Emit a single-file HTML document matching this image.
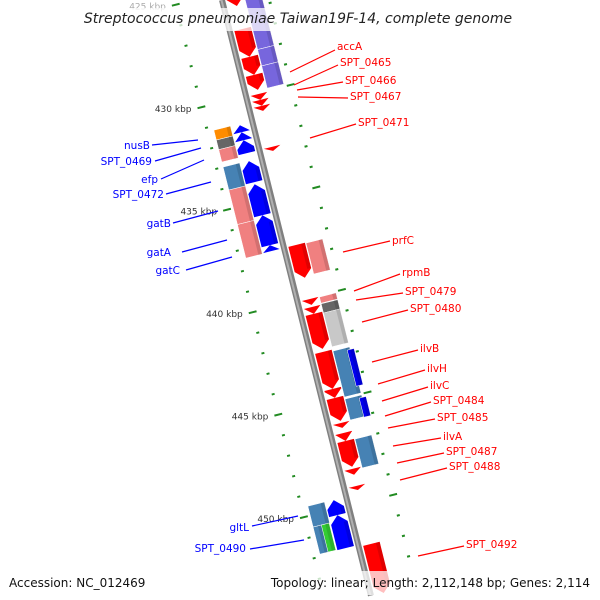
<!DOCTYPE html>
<html><head><meta charset="utf-8">
<style>
html,body{margin:0;padding:0;background:#fff;width:600px;height:600px;overflow:hidden;}
svg{display:block;font-family:"DejaVu Sans","Liberation Sans",sans-serif;overflow:hidden;}
</style></head>
<body>
<svg id="chart" width="600" height="600" viewBox="0 0 600 600" xmlns="http://www.w3.org/2000/svg">
<defs><clipPath id="frame"><rect x="0" y="0" width="600" height="600"/></clipPath></defs>
<g clip-path="url(#frame)">
<g id="plot"></g>
<g id="labels"></g>
</g>
<rect x="82" y="8" width="436" height="23" fill="#fff" opacity="0.75"/>
<text x="298" y="23" text-anchor="middle" font-size="14" font-style="italic" fill="#222">Streptococcus pneumoniae Taiwan19F-14, complete genome</text>
<rect x="0" y="571" width="600" height="24" fill="#fff" opacity="0.75"/>
<text x="9" y="587" font-size="12" fill="#111">Accession: NC_012469</text>
<text x="590" y="587" text-anchor="end" font-size="12" fill="#111">Topology: linear; Length: 2,112,148 bp; Genes: 2,114</text>
</svg>
<script>
// genome data (kbp)
const fwdStarts = [424.8,426.88,428.24,429.12,430.05,430.34,430.63,432.63,437.41,440.05,440.44,440.78,442.63,444.44,444.88,446.1,446.59,446.98,448.34,449.17,452.0];
const fwdEnds   = [425.76,428.24,429.12,429.85,430.34,430.63,430.88,432.83,439.02,440.34,440.78,442.49,444.44,444.88,446.0,446.34,446.98,448.24,448.63,449.37,454.4];
const revStarts = [431.27,431.61,432.0,433.02,434.15,435.66,437.12,449.56,450.29];
const revEnds   = [431.61,432.0,432.63,434.05,435.66,437.12,437.41,450.29,451.9];
const outerRStarts = [424.8,428.0,428.8,437.44,440.07,440.4,440.85,442.71,445.05,447.0];
const outerREnds   = [428.0,428.8,429.88,438.95,440.37,440.85,442.5,444.95,446.07,448.41];
const outerRColors = ["#7766dd","#7766dd","#7766dd","#f08080","#f08080","#666666","#c8c8c8","#4682b4","#4682b4","#4682b4"];
const thirdRStarts = [442.83,445.17];
const thirdREnds   = [444.59,446.1];
const outerLStarts = [431.2,431.68,432.15,433.0,434.12,435.8,449.54];
const outerLEnds   = [431.68,432.15,432.75,434.12,435.8,437.44,450.56];
const outerLColors = ["#ff8c00","#666666","#f08080","#4682b4","#f08080","#f08080","#4682b4"];
const splitLStarts = [450.56];
const splitLEnds   = [451.88];
const tickStart = 425, tickEnd = 453;
const tickLabels = ["425 kbp","430 kbp","435 kbp","440 kbp","445 kbp","450 kbp"];
const tickLabelValues = [425,430,435,440,445,450];

const NS="http://www.w3.org/2000/svg";
const ANG=14.04*Math.PI/180, C=Math.cos(ANG), S=Math.sin(ANG);
function vOf(k){return 99+(k-430)*21.13;}
function toScreen(u,v){return [222+u*C+v*S, -u*S+v*C];}
const plot=document.getElementById('plot');
const g=document.createElementNS(NS,'g');
g.setAttribute('transform','translate(222,0) rotate(-14.04)');
plot.appendChild(g);
function mk(tag,attrs,parent){const e=document.createElementNS(NS,tag);for(const k in attrs)e.setAttribute(k,attrs[k]);(parent||g).appendChild(e);return e;}

// backbone
const bb=mk('line',{x1:0,y1:0,x2:0,y2:614,stroke:'#808080','stroke-width':6});


mk('line',{x1:-0.5,y1:0,x2:-0.5,y2:614,stroke:'#b0b0b0','stroke-width':2});

// ticks
for(let k=tickStart;k<=tickEnd;k++){
  const v=vOf(k), major=(k%5===0);
  [-46,46].forEach(u=>{
    const len=major?8:3;
    const t=mk('rect',{x:u-len/2,y:v-1,width:len,height:2,fill:'#228b22'});
    
    
  });
}
tickLabelValues.forEach((k,i)=>{
  const p=toScreen(-50,vOf(k));
  const t=mk('text',{x:p[0]-6,y:p[1]+4,'text-anchor':'end','font-size':9,fill:k===425?'#aaa':'#333'},plot);
  t.textContent=tickLabels[i];
  
  
});

function arrow(k1,k2,u,w,color,forward,name){
  const v1=vOf(k1), v2=vOf(k2), len=v2-v1, h=Math.min(8,len);
  let pts;
  if(forward) pts=[[u-w/2,v1],[u+w/2,v1],[u+w/2,v2-h],[u,v2],[u-w/2,v2-h]];
  else pts=[[u-w/2,v2],[u+w/2,v2],[u+w/2,v1+h],[u,v1],[u-w/2,v1+h]];
  const p=mk('polygon',{points:pts.map(q=>q.join(',')).join(' '),fill:color});
  
  
  mk('rect',{x:u+w/2-4,y:forward?v1:v1+h,width:4,height:Math.max(0,len-h),fill:'#000',opacity:0.12});
}
function box(k1,k2,u,w,color,name){
  const r=mk('rect',{x:u-w/2,y:vOf(k1),width:w,height:vOf(k2)-vOf(k1),fill:color,stroke:'#fff','stroke-width':0.5});
  
  
  mk('rect',{x:u+w/2-4,y:vOf(k1),width:4,height:vOf(k2)-vOf(k1),fill:'#000',opacity:0.12});
}
fwdStarts.forEach((s,i)=>arrow(s,fwdEnds[i],13,17,'#ff0000',true,'forward-gene'));
revStarts.forEach((s,i)=>arrow(s,revEnds[i],-13,17,'#0000ff',false,'reverse-gene'));
outerRStarts.forEach((s,i)=>box(s,outerREnds[i],31,17,outerRColors[i],'forward-feature'));
thirdRStarts.forEach((s,i)=>box(s,thirdREnds[i],40,7,'#0000ee','forward-feature-blue'));
outerLStarts.forEach((s,i)=>box(s,outerLEnds[i],-31,17,outerLColors[i],'reverse-feature'));
splitLStarts.forEach((s,i)=>{box(s,splitLEnds[i],-35,9,'#4682b4','reverse-feature');box(s,splitLEnds[i],-27,8,'#33cc33','reverse-feature-green');});

// labels (screen coords)
const L=document.getElementById('labels');
const rightLabels=[["accA",337,50,290,72,335,50],["SPT_0465",340,66,294,85,338,65],["SPT_0466",345,84,297,90,343,82],["SPT_0467",350,100,298,97,348,98],["SPT_0471",358,126,310,138,356,124],["prfC",392,244,343,252,390,241],["rpmB",402,276,354,291,400,274],["SPT_0479",405,295,356,300,403,293],["SPT_0480",410,312,362,322,408,310],["ilvB",420,352,372,362,418,350],["ilvH",427,372,378,384,425,370],["ilvC",430,389,382,401,428,387],["SPT_0484",433,404,385,416,431,402],["SPT_0485",437,421,388,428,435,419],["ilvA",443,440,393,446,441,438],["SPT_0487",446,455,397,463,444,453],["SPT_0488",449,470,400,480,447,468],["SPT_0492",466,548,418,556,464,546]];
const leftLabels=[["nusB",150,149,152,145,198,140],["SPT_0469",152,165,155,161,201,148],["efp",158,183,161,179,204,160],["SPT_0472",164,198,166,194,211,182],["gatB",171,227,173,223,218,211],["gatA",171,256,182,252,227,240],["gatC",180,274,186,270,232,257],["gltL",249,531,252,526,298,516],["SPT_0490",246,552,250,549,304,540]];
function lab(a,color,anchor){
  const ln=mk('line',{x1:a[3],y1:a[4],x2:a[5],y2:a[6],stroke:color,'stroke-width':1.2},L);
  
  
  const t=mk('text',{x:a[1],y:a[2],'text-anchor':anchor,'font-size':10.5,fill:color},L);
  t.textContent=a[0];
  
  
}
rightLabels.forEach(a=>lab(a,'#ff0000','start'));
leftLabels.forEach(a=>lab(a,'#0000ff','end'));
</script>
</body></html>
